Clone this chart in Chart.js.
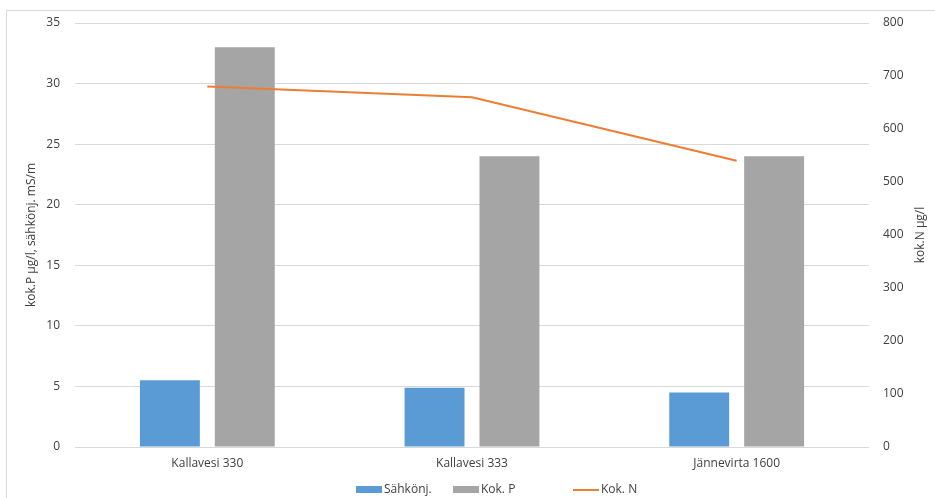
<!DOCTYPE html>
<html>
<head>
<meta charset="utf-8">
<script src="https://cdn.jsdelivr.net/npm/chart.js@4"></script>
<style>
  html, body { margin: 0; padding: 0; background: #fff; overflow: hidden; }
  #wrap { position: relative; width: 935px; height: 498px; }
  #frame { position: absolute; left: 6px; top: 10px; width: 940px; height: 500px; border: 1px solid #d9d9d9; box-sizing: border-box; pointer-events: none; }
  #c { position: absolute; left: 0; top: 0; }
  #legend { position: absolute; left: 0; top: 481px; width: 935px; height: 16px; font-family: "Open Sans", sans-serif; font-size: 12px; color: #404040; }
  .item { position: absolute; top: 0; height: 16px; line-height: 16px; white-space: nowrap; }
  .sw { position: absolute; left: 0; }
  .item span.t { position: absolute; top: 0; }
</style>
</head>
<body>
<div id="wrap">
  <canvas id="c" width="935" height="498"></canvas>
  <div id="frame"></div>
  <div id="legend"></div>
</div>
<script>
const categories = ["Kallavesi 330", "Kallavesi 333", "Jännevirta 1600"];
const sahkonj = [5.5, 4.9, 4.5];
const kokP = [33, 24, 24];
const kokN = [680, 660, 540];
const seriesNames = ["Sähkönj.", "Kok. P", "Kok. N"];
const leftTicks = [0, 5, 10, 15, 20, 25, 30, 35];
const rightTicks = [0, 100, 200, 300, 400, 500, 600, 700, 800];
const leftTitle = "kok.P µg/l, sähkönj. mS/m";
const rightTitle = "kok.N µg/l";

const colors = ["#5B9BD5", "#A5A5A5", "#ED7D31"];
const FONT = '"Open Sans", sans-serif';

const rightTitlePlugin = {
  id: 'rightTitle',
  afterDraw(chart) {
    const ctx = chart.ctx;
    const ca = chart.chartArea;
    ctx.save();
    ctx.translate(921, (ca.top + ca.bottom) / 2);
    ctx.rotate(-Math.PI / 2);
    ctx.font = '12px ' + FONT;
    ctx.fillStyle = '#404040';
    ctx.textAlign = 'center';
    ctx.textBaseline = 'middle';
    ctx.fillText(rightTitle, 0, 0);
    ctx.restore();
  }
};

new Chart(document.getElementById('c'), {
  data: {
    labels: categories,
    datasets: [
      { type: 'line', label: seriesNames[2], data: kokN, yAxisID: 'y2',
        borderColor: colors[2], backgroundColor: colors[2], borderWidth: 2,
        pointRadius: 0, tension: 0, order: 0 },
      { type: 'bar', label: seriesNames[0], data: sahkonj, yAxisID: 'y',
        backgroundColor: colors[0], borderWidth: 0, order: 1,
        categoryPercentage: 0.566, barPercentage: 0.8 },
      { type: 'bar', label: seriesNames[1], data: kokP, yAxisID: 'y',
        backgroundColor: colors[1], borderWidth: 0, order: 1,
        categoryPercentage: 0.566, barPercentage: 0.8 }
    ]
  },
  options: {
    responsive: false,
    animation: false,
    layout: { padding: { top: 23, bottom: 0, left: 0, right: 0 } },
    plugins: { legend: { display: false }, tooltip: { enabled: false } },
    scales: {
      x: {
        grid: { display: false, drawTicks: false },
        border: { display: false },
        ticks: { font: { family: FONT, size: 12 }, color: '#404040', padding: 9 },
        afterFit(s) { s.height = 51; }
      },
      y: {
        position: 'left', min: 0, max: 35,
        afterBuildTicks(s) { s.ticks = leftTicks.map(v => ({ value: v })); },
        grid: { color: '#d9d9d9', drawTicks: false },
        border: { display: false },
        ticks: { font: { family: FONT, size: 12 }, color: '#404040', padding: 15 },
        title: { display: true, text: leftTitle, font: { family: FONT, size: 12 }, color: '#404040', padding: { top: 24, bottom: 0 } },
        afterFit(s) { s.width = 75; }
      },
      y2: {
        position: 'right', min: 0, max: 800,
        afterBuildTicks(s) { s.ticks = rightTicks.map(v => ({ value: v })); },
        grid: { display: false, drawTicks: false },
        border: { display: false },
        ticks: { font: { family: FONT, size: 12 }, color: '#404040', padding: 14 },
        afterFit(s) { s.width = 66; }
      }
    }
  },
  plugins: [rightTitlePlugin]
});

// HTML legend
const legend = document.getElementById('legend');
const items = [
  { name: seriesNames[0], color: colors[0], kind: 'box', x: 356 },
  { name: seriesNames[1], color: colors[1], kind: 'box', x: 453 },
  { name: seriesNames[2], color: colors[2], kind: 'line', x: 573 }
];
items.forEach(it => {
  const d = document.createElement('div');
  d.className = 'item';
  d.style.left = it.x + 'px';
  const sw = document.createElement('div');
  sw.className = 'sw';
  sw.style.width = '26px';
  sw.style.background = it.color;
  if (it.kind === 'box') { sw.style.top = '5px'; sw.style.height = '7px'; }
  else { sw.style.top = '8px'; sw.style.height = '2px'; }
  const t = document.createElement('span');
  t.className = 't';
  t.style.left = '28px';
  t.textContent = it.name;
  d.appendChild(sw); d.appendChild(t);
  legend.appendChild(d);
});
</script>
</body>
</html>
